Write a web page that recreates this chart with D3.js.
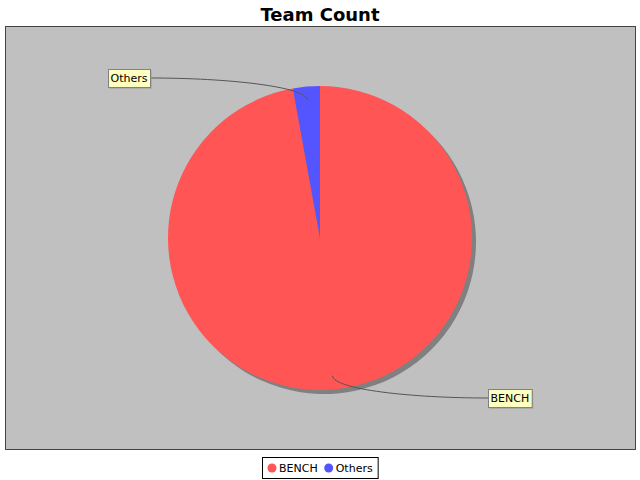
<!DOCTYPE html>
<html><head><meta charset="utf-8">
<script src="https://cdn.jsdelivr.net/npm/d3@7"></script>
<style>body{margin:0;background:#fff}</style>
</head><body>
<script>
const categories = ["BENCH", "Others"];
const values = [34, 1];
const colors = ["#FF5555", "#5555FF"];
const title = "Team Count";

const W = 640, H = 480;
const svg = d3.select("body").append("svg").attr("width", W).attr("height", H)
  .style("font-family", "'DejaVu Sans', sans-serif");

svg.append("rect").attr("width", W).attr("height", H).attr("fill", "#fff");

svg.append("text").attr("x", 320).attr("y", 21).attr("text-anchor", "middle")
  .attr("font-size", 18).attr("font-weight", "bold").text(title);

const plot = {x: 5.5, y: 26.5, w: 630, h: 423};
svg.append("rect").attr("x", plot.x).attr("y", plot.y).attr("width", plot.w).attr("height", plot.h)
  .attr("fill", "#C0C0C0").attr("stroke", "#444").attr("stroke-width", 1);

const cx = 320, cy = 238, R = 152;
const data = categories.map((c, i) => ({cat: c, value: values[i], color: colors[i]}));
const pie = d3.pie().sort(null).value(d => d.value);
const arcs = pie(data);
const arc = d3.arc().innerRadius(0).outerRadius(R);

const g = svg.append("g");
// shadow
g.append("g").attr("transform", `translate(${cx + 4},${cy + 4})`)
  .selectAll("path").data(arcs).join("path").attr("d", arc).attr("fill", "#808080");
g.append("g").attr("transform", `translate(${cx},${cy})`)
  .selectAll("path").data(arcs).join("path").attr("d", arc).attr("fill", d => d.data.color);

// labels with cubic links
arcs.forEach(a => {
  const mid = (a.startAngle + a.endAngle) / 2;
  const sx = Math.sin(mid), cyy = -Math.cos(mid);
  const right = sx > 0;
  const ax = cx + 0.91 * R * sx, ay = cy + 0.91 * R * cyy;
  const ex = cx + R * sx, ey = cy + R * cyy;
  const ly = cy + 1.057 * R * cyy;
  const lx = right ? cx + R + 16 : cx - R - 18;
  const c2x = (ex + lx) / 2;
  svg.append("path")
    .attr("d", `M${ax},${ay} C${ex},${ey} ${c2x},${ly} ${lx},${ly}`)
    .attr("fill", "none").attr("stroke", "#555").attr("stroke-width", 1);
  const t = svg.append("text").attr("font-size", 11).attr("y", ly + 4)
    .text(a.data.cat);
  const tw = t.node().getComputedTextLength();
  const bw = tw + 5, bh = 18;
  const bx = right ? lx : lx - bw;
  const by = ly - bh / 2;
  svg.insert("rect", "text:last-of-type").attr("x", bx + 1.5).attr("y", by + 1.5).attr("width", bw).attr("height", bh)
    .attr("fill", "#999");
  svg.insert("rect", "text:last-of-type").attr("x", bx + 0.5).attr("y", by + 0.5).attr("width", bw).attr("height", bh)
    .attr("fill", "#FFFFC0").attr("stroke", "#808080");
  t.attr("x", bx + 2.5);
  t.raise();
});

// legend
const leg = svg.append("g");
const items = [];
let x = 0;
const lg = leg.append("g");
data.forEach((d, i) => {
  const it = lg.append("g").attr("transform", `translate(${x},0)`);
  it.append("circle").attr("cx", 5).attr("cy", 0).attr("r", 4.5).attr("fill", d.color);
  const t = it.append("text").attr("x", 12).attr("y", 4).attr("font-size", 11).text(d.cat);
  x += 12 + t.node().getComputedTextLength() + 6;
});
const lw = x - 6 + 10;
const lx0 = Math.round(320 - lw / 2);
leg.insert("rect", ":first-child").attr("x", lx0 + 0.5).attr("y", 457.5).attr("width", lw).attr("height", 21)
  .attr("fill", "#fff").attr("stroke", "#000");
lg.attr("transform", `translate(${lx0 + 5},468)`);
</script>
</body></html>
